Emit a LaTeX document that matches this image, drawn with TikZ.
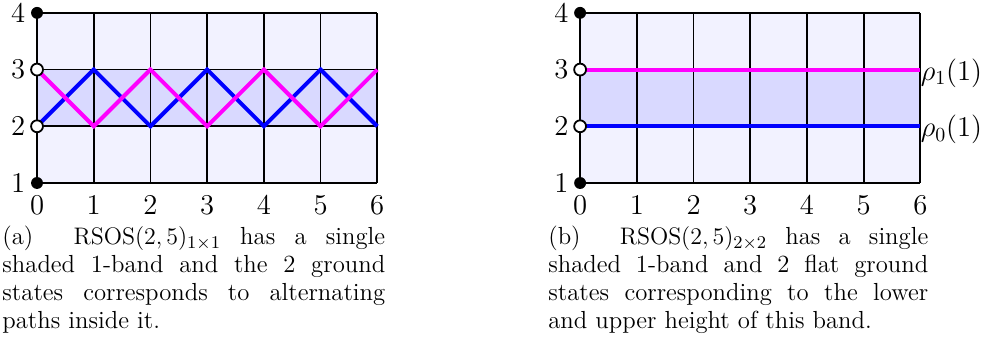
\documentclass[tikz,border=0pt]{standalone}
\usetikzlibrary{positioning}
\definecolor{pathmag}{RGB}{255,0,255}
\definecolor{pathblue}{RGB}{0,0,255}
\tikzset{
  gridline/.style={line width=0.9pt},
  lowpath/.style={pathblue, line width=2pt},
  uppath/.style={pathmag, line width=2pt},
  blackdot/.style={circle, fill=black, inner sep=0pt, minimum size=0.21cm},
  whitedot/.style={circle, draw=black, fill=white, line width=0.9pt, inner sep=0pt, minimum size=0.21cm},
  hlabel/.style={font=\fontsize{14}{16}\selectfont, inner sep=0pt},
  captext/.style={anchor=base west, inner sep=0pt, font=\fontsize{12.4}{13.9}\selectfont}
}
\begin{document}
\begin{tikzpicture}
    \useasboundingbox (-0.653,-2.716) rectangle (16.77,3.227);

    % Panel (a): zig-zag ground states
    \fill[blue!5] (0,0) rectangle (6,3);
    \fill[blue!15] (0,1) rectangle (6,2);
    \draw[gridline] (0,0) grid (6,3);
    \draw[lowpath] (0,1) -- (1,2) -- (2,1) -- (3,2) -- (4,1) -- (5,2) -- (6,1);
    \draw[uppath] (0,2) -- (1,1) -- (2,2) -- (3,1) -- (4,2) -- (5,1) -- (6,2);
    \node[blackdot] (a1) at (0,0) {};
    \node[whitedot] (a2) at (0,1) {};
    \node[whitedot] (a3) at (0,2) {};
    \node[blackdot] (a4) at (0,3) {};
    \foreach \h in {1,...,4}
        \node[hlabel, anchor=east] (ah\h) at (-0.2,\h-1) {$\h$};
    \foreach \x in {0,...,6}
        \node[hlabel, anchor=base] (ax\x) at (\x,-0.55) {$\x$};
    \node[captext] (capa) at (-0.617,-1.093) {\parbox[t]{6.75cm}{(a)\hspace{0.85em} $\mathrm{RSOS}(2,5)_{1\times 1}$ has a single\linebreak
        shaded 1-band and the 2 ground\linebreak
        states corresponds to alternating\linebreak
        paths inside it.}};

    % Panel (b): flat ground states
    \begin{scope}[xshift=9.577cm]
        \fill[blue!5] (0,0) rectangle (6,3);
        \fill[blue!15] (0,1) rectangle (6,2);
        \draw[gridline] (0,0) grid (6,3);
        \draw[lowpath] (0,1) -- (6,1);
        \draw[uppath] (0,2) -- (6,2);
        \node[blackdot] (b1) at (0,0) {};
        \node[whitedot] (b2) at (0,1) {};
        \node[whitedot] (b3) at (0,2) {};
        \node[blackdot] (b4) at (0,3) {};
        \foreach \h in {1,...,4}
            \node[hlabel, anchor=east] (bh\h) at (-0.2,\h-1) {$\h$};
        \foreach \x in {0,...,6}
            \node[hlabel, anchor=base] (bx\x) at (\x,-0.55) {$\x$};
        \node[hlabel, anchor=west, yshift=-0.06cm] (rho1) at (6,2) {$\rho_1(1)$};
        \node[hlabel, anchor=west, yshift=-0.06cm] (rho0) at (6,1) {$\rho_0(1)$};
        \node[captext] (capb) at (-0.567,-1.093) {\parbox[t]{6.70cm}{(b)\hspace{0.85em} $\mathrm{RSOS}(2,5)_{2\times 2}$ has a single\linebreak
            shaded 1-band and 2 flat ground\linebreak
            states corresponding to the lower\linebreak
            and upper height of this band.}};
    \end{scope}
\end{tikzpicture}
\end{document}
